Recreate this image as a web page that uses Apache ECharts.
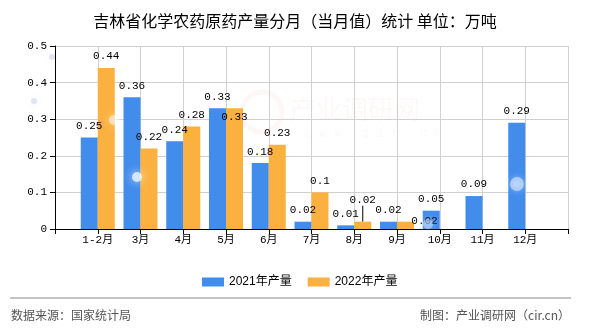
<!DOCTYPE html>
<html><head><meta charset="utf-8">
<script src="https://cdn.jsdelivr.net/npm/echarts@6/dist/echarts.min.js"></script>
<style>html,body{margin:0;padding:0;background:#fff}#c{width:590px;height:330px}</style>
</head><body><div id="c"></div>
<script>
var title = '吉林省化学农药原药产量分月（当月值）统计 单位：万吨';
var categories = ['1-2月','3月','4月','5月','6月','7月','8月','9月','10月','11月','12月'];
var seriesNames = ['2021年产量','2022年产量'];
var values2021 = [0.25,0.36,0.24,0.33,0.18,0.02,0.01,0.02,0.05,0.09,0.29];
var values2022 = [0.44,0.22,0.28,0.33,0.23,0.1,0.02,0.02];
var yTicks = [0,0.1,0.2,0.3,0.4,0.5];
var sourceText = '数据来源：国家统计局';
var creditText = '制图：产业调研网（cir.cn）';

var axisCats = [''].concat(categories).concat(['']);
// label nudges to mimic overlap avoidance of the original (key: series-categoryIndex)
var nudges = {'1-3':{dy:20}, '1-6':{dy:-10, line:true}, '1-7':{dx:19, dy:11}};
function pad(arr, s){
  var out=[null];
  for(var i=0;i<categories.length;i++){
    var v = i<arr.length?arr[i]:null;
    var n = nudges[s+'-'+i];
    if(v!==null && n && n.line){ out.push({value:v, labelLine:{show:true, lineStyle:{color:'#000', width:1}}}); }
    else out.push(v);
  }
  out.push(null); return out;
}

var monoFont = "'Liberation Mono','Noto Sans CJK SC',monospace";
var labelCfg = {show:true, position:'top', distance:6, color:'#000', fontSize:11, fontFamily:monoFont};

var chart = echarts.init(document.getElementById('c'), null, {renderer:'canvas'});
chart.setOption({
  animation:false,
  backgroundColor:'#fff',
  title:{text:title, left:'center', top:8, textStyle:{fontSize:16, fontWeight:'normal', color:'#000', fontFamily:"'Noto Sans CJK SC',sans-serif"}},
  grid:{left:55, right:22, top:46, bottom:101},
  legend:{left:197, top:271, itemWidth:22, itemHeight:9, itemGap:16, icon:'rect',
    textStyle:{fontSize:12, color:'#000', fontFamily:"'Liberation Sans','Noto Sans CJK SC',sans-serif"}, data:seriesNames},
  xAxis:{type:'category', data:axisCats, boundaryGap:false,
    axisLine:{lineStyle:{color:'#000', width:1}},
    axisTick:{show:true, length:5, interval:0, lineStyle:{color:'#000'}},
    axisLabel:{interval:0, color:'#000', fontSize:11, fontFamily:monoFont, margin:6},
    splitLine:{show:true, interval:0, lineStyle:{color:'#d0d0d0'}}},
  yAxis:{type:'value', min:yTicks[0], max:yTicks[yTicks.length-1], interval:0.1,
    axisLine:{show:true, lineStyle:{color:'#000'}},
    axisTick:{show:true, length:5, lineStyle:{color:'#000'}},
    axisLabel:{color:'#000', fontSize:11, fontFamily:monoFont, margin:8},
    splitLine:{lineStyle:{color:'#d0d0d0'}}},
  series:[
    {name:seriesNames[0], type:'bar', data:pad(values2021,0), barWidth:17, barGap:'0%',
     itemStyle:{color:'#428CEC'}, label:labelCfg},
    {name:seriesNames[1], type:'bar', data:pad(values2022,1), barWidth:17, barGap:'0%',
     itemStyle:{color:'#FBB13F'}, label:labelCfg,
     labelLine:{show:false},
     labelLayout:function(p){ var n = nudges[p.seriesIndex+'-'+(p.dataIndex-1)]; return n? {dx:n.dx||0, dy:n.dy||0} : {}; }}
  ],
  graphic:[
    {type:'text', left:290, top:96, z:-1, style:{text:'产业调研网', fontSize:26, fill:'rgba(230,120,120,0.05)', fontFamily:"'Noto Sans CJK SC',sans-serif"}},
    {type:'text', left:305, top:128, z:-1, style:{text:'w w w . c i r . c n', fontSize:12, fill:'rgba(230,120,120,0.05)', fontFamily:monoFont}},
    {type:'circle', shape:{cx:262, cy:112, r:20}, z:-1, style:{fill:'none', stroke:'rgba(230,120,120,0.06)', lineWidth:5}},
    {type:'circle', shape:{cx:517, cy:184, r:7}, z:100, style:{fill:'rgba(255,255,255,0.45)', shadowBlur:6, shadowColor:'rgba(255,255,255,0.8)'}},
    {type:'circle', shape:{cx:114, cy:120, r:5}, z:100, style:{fill:'rgba(255,255,255,0.5)', shadowBlur:8, shadowColor:'rgba(255,255,255,0.9)'}},
    {type:'circle', shape:{cx:137, cy:177, r:5}, z:100, style:{fill:'rgba(255,255,255,0.7)', shadowBlur:10, shadowColor:'rgba(255,255,255,1)'}},
    {type:'circle', shape:{cx:428, cy:224, r:5}, z:100, style:{fill:'rgba(255,255,255,0.4)', shadowBlur:8, shadowColor:'rgba(255,255,255,0.9)'}},
    {type:'circle', shape:{cx:52, cy:57, r:3}, z:-1, style:{fill:'rgba(180,185,220,0.35)', shadowBlur:6, shadowColor:'rgba(180,185,220,0.6)'}},
    {type:'circle', shape:{cx:34, cy:101, r:3}, z:-1, style:{fill:'rgba(180,185,220,0.35)', shadowBlur:6, shadowColor:'rgba(180,185,220,0.6)'}},
    {type:'line', shape:{x1:10, y1:298, x2:571, y2:298}, style:{stroke:'#888', lineWidth:1}},
    {type:'text', left:11, top:309, style:{text:sourceText, fontSize:12, fill:'#555', fontFamily:"'Noto Sans CJK SC',sans-serif"}},
    {type:'text', right:20, top:309, style:{text:creditText, fontSize:12, fill:'#555', fontFamily:"'Noto Sans CJK SC',sans-serif"}}
  ]
});
</script></body></html>
